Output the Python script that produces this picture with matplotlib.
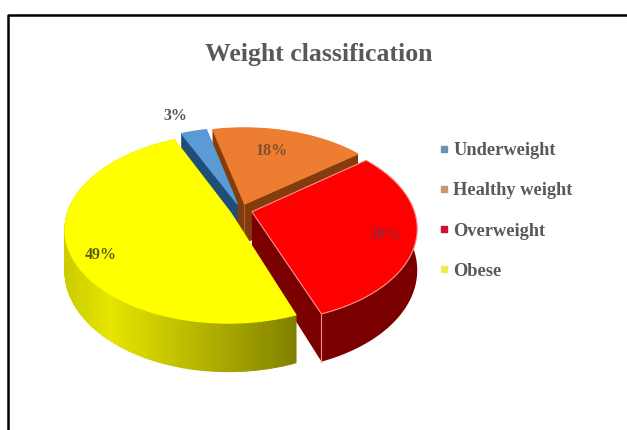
import numpy as np
import matplotlib
matplotlib.use("Agg")
import matplotlib.pyplot as plt
from matplotlib.collections import PolyCollection
from matplotlib.lines import Line2D

title = "Weight classification"
categories = ["Underweight", "Healthy weight", "Overweight", "Obese"]
values = [3, 18, 30, 49]
labels = ["3%", "18%", "30%", "49%"]

top_colors = ["#5B9BD5", "#ED7D31", "#FF0000", "#FFFF00"]
wall_colors = ["#1F4E79", "#843C0C", "#7A0000", "#A0A000"]
legend_colors = ["#6F8FB5", "#C9966F", "#CC1030", "#E8F050"]
draw_order = [1, 0, 2, 3]
TXT = "#595959"
plt.rcParams["font.family"] = ["Liberation Serif", "DejaVu Serif"]

W, H = 627, 430
fig = plt.figure(figsize=(W / 100, H / 100), dpi=100)
ax = fig.add_axes([0, 0, 1, 1])
ax.set_xlim(0, W)
ax.set_ylim(H, 0)
ax.axis("off")

# frame
ax.plot([8, 8, 627], [430, 14.5, 14.5], color="black", lw=1.8, solid_capstyle="butt", zorder=1)

# projection parameters
CX, CY, RX, RY, DEPTH, PERSP, EXPL, START = 241, 210, 162, 91, 40, 0.17, 0.07, 114


def project(X, Y, Z=0.0):
    s = 1 / (1 + PERSP * np.asarray(Y, dtype=float))
    return CX + RX * np.asarray(X) * s, CY - RY * np.asarray(Y) * s + DEPTH * Z * s


total = sum(values)
edges = START - np.cumsum([0] + values) * 360 / total
wedges = list(zip(edges[:-1], edges[1:]))

z = 2
for i in draw_order:
    a0, a1 = wedges[i]
    mid = np.radians((a0 + a1) / 2)
    ox, oy = EXPL * np.cos(mid), EXPL * np.sin(mid)
    th = np.radians(np.linspace(a0, a1, 120))
    X, Y = ox + np.cos(th), oy + np.sin(th)
    # radial cut faces
    for t in (th[0], th[-1]):
        ex, ey = ox + np.cos(t), oy + np.sin(t)
        p = [project(ox, oy), project(ex, ey), project(ex, ey, 1), project(ox, oy, 1)]
        ax.fill([q[0] for q in p], [q[1] for q in p], color=wall_colors[i], lw=0, zorder=z)
    # outer wall
    xt, yt = project(X, Y)
    xb, yb = project(X, Y, 1)
    if i == 3:
        quads, cols = [], []
        for k in range(len(th) - 1):
            quads.append([(xt[k], yt[k]), (xt[k + 1], yt[k + 1]), (xb[k + 1], yb[k + 1]), (xb[k], yb[k])])
            frac = np.clip((xt[k] - 65) / (300 - 65), 0, 1)
            f = np.interp(frac, [0, 0.2, 1], [0.80, 0.90, 0.50])
            cols.append((f, f, 0))
        ax.add_collection(PolyCollection(quads, facecolors=cols, edgecolors=cols, linewidths=0.8, zorder=z + 0.1))
    else:
        ax.fill(np.r_[xt, xb[::-1]], np.r_[yt, yb[::-1]], color=wall_colors[i], lw=0, zorder=z + 0.1)
    # top face
    px = np.r_[project(ox, oy)[0], xt]
    py = np.r_[project(ox, oy)[1], yt]
    edge = "#FF9090" if i == 2 else top_colors[i]
    ax.fill(px, py, facecolor=top_colors[i], edgecolor=edge, lw=0.8, zorder=z + 0.2)
    if i == 2:
        ax.plot([xt[-1], xb[-1]], [yt[-1], yb[-1]], color="#FF9090", lw=0.8, zorder=z + 0.3)
    z += 1

# data labels
label_pos = [(175.5, 116), (272, 151), (385, 235), (101, 255)]
for lab, (x, y), c in zip(labels, label_pos, [TXT, "#7F5030", "#A02030", "#606010"]):
    ax.text(x, y, lab, ha="center", va="center", fontsize=11.5, fontweight="bold", color=c, zorder=20)

ax.text(319, 55, title, ha="center", va="center", fontsize=18.5, fontweight="bold", color=TXT, zorder=20)

handles = [Line2D([], [], ls="none", marker="s", ms=5, mfc=c, mec=c) for c in legend_colors]
ax.legend(handles, categories, loc="upper left", bbox_to_anchor=(435 / W, 1 - 142 / H), frameon=False,
          prop={"size": 13.2, "weight": "bold"}, labelcolor=TXT, handletextpad=0.0, labelspacing=1.27,
          borderpad=0, borderaxespad=0, handlelength=1.0)

fig.savefig("out.png", dpi=100, facecolor="white")
